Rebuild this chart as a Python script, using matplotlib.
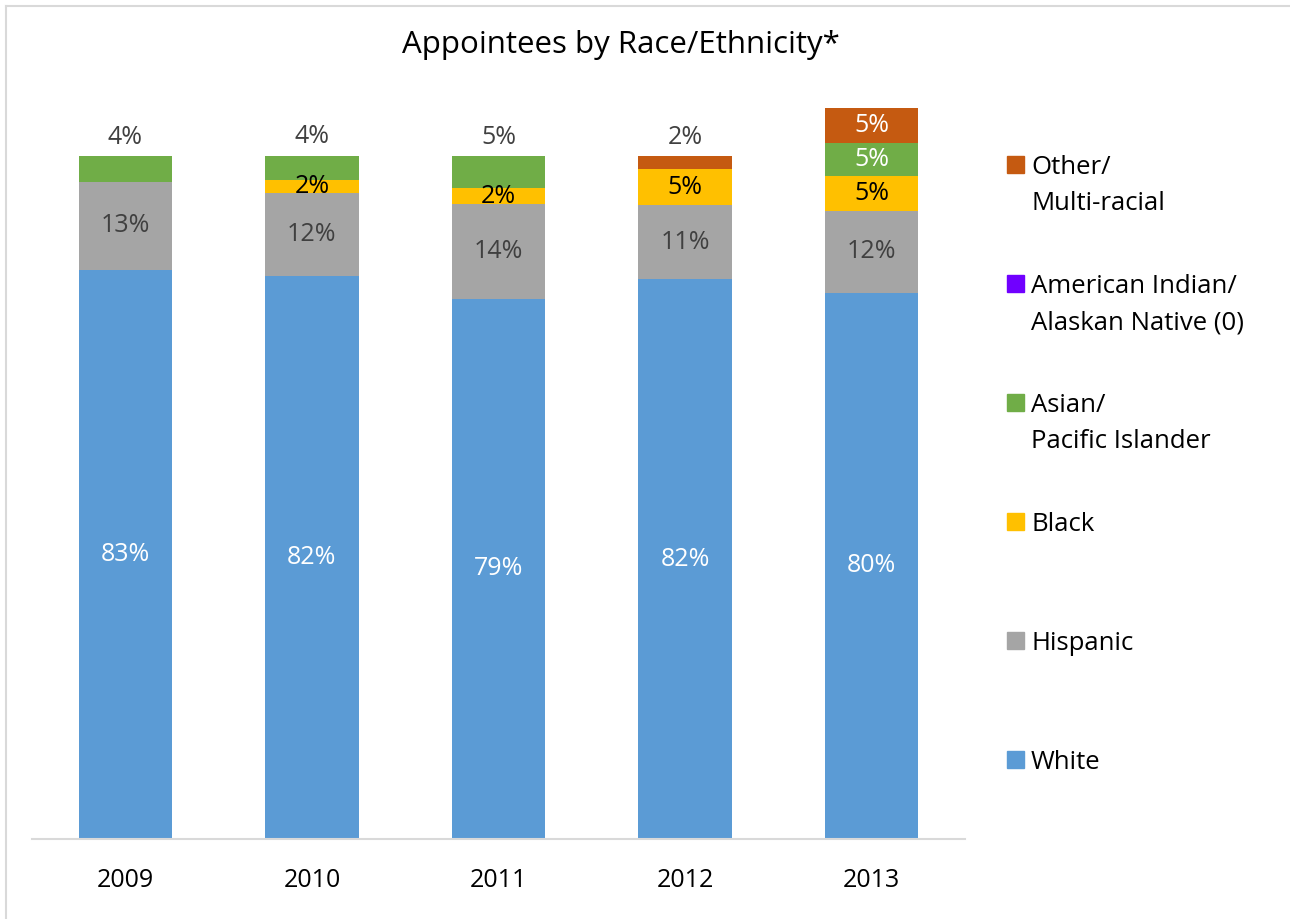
import matplotlib.pyplot as plt
from matplotlib.patches import Rectangle
from matplotlib.lines import Line2D

plt.rcParams['font.family'] = ['Open Sans', 'DejaVu Sans']

# данные
years = ['2009', '2010', '2011', '2012', '2013']
white = [83.3, 82.4, 79.1, 82.0, 80.0]
hispanic = [13.0, 12.2, 13.9, 10.8, 12.0]
black = [0, 1.9, 2.3, 5.3, 5.1]
asian = [3.7, 3.6, 4.7, 0, 4.8]
am_indian = [0, 0, 0, 0, 0]
other = [0, 0, 0, 1.9, 5.1]

series = [
    ('White', white, '#5B9BD5', 'white'),
    ('Hispanic', hispanic, '#A5A5A5', '#404040'),
    ('Black', black, '#FFC000', 'black'),
    ('Asian/\nPacific Islander', asian, '#70AD47', 'white'),
    ('American Indian/\nAlaskan Native (0)', am_indian, '#7000FF', 'white'),
    ('Other/\nMulti-racial', other, '#C55A11', 'white'),
]

fig = plt.figure(figsize=(12.9, 9.19), dpi=100)
ax = fig.add_axes([32 / 1290, 1 - 839 / 919, 933 / 1290, 751 / 919])

x = list(range(len(years)))
bottom = [0.0] * len(years)
tops = [sum(s[1][i] for s in series) for i in x]

for name, vals, color, tcolor in series:
    ax.bar(x, vals, width=0.5, bottom=bottom, color=color, edgecolor='none')
    for i in x:
        v = vals[i]
        if v <= 0:
            continue
        is_top = abs(bottom[i] + v - tops[i]) < 1e-6
        if is_top and v < 5:
            ax.text(i, tops[i] + 2.8, f'{round(v)}%', ha='center', va='center',
                    fontsize=18, color='#404040')
        else:
            ax.text(i, bottom[i] + v / 2, f'{round(v)}%', ha='center', va='center',
                    fontsize=18, color=tcolor)
    bottom = [b + v for b, v in zip(bottom, vals)]

ax.set_xlim(-0.5, 4.5)
ax.set_ylim(0, 110)
ax.set_xticks(x)
ax.set_xticklabels(years, fontsize=18)
ax.tick_params(axis='x', length=0, pad=21)
ax.set_yticks([])
for sp in ['top', 'right', 'left']:
    ax.spines[sp].set_visible(False)
ax.spines['bottom'].set_color('#D9D9D9')
ax.spines['bottom'].set_linewidth(1.5)

fig.text(0.481, 1 - 45 / 919, 'Appointees by Race/Ethnicity*', ha='center', va='center',
         fontsize=22.5, color='black')

# легенда
for k, (name, vals, color, tcolor) in enumerate(reversed(series)):
    yy = 1 - (165 + 119 * k) / 919
    fig.add_artist(Rectangle((1007 / 1290, yy - 8 / 919), 17 / 1290, 17 / 919,
                             transform=fig.transFigure, color=color))
    fig.text(1031 / 1290, yy + 10 / 919, name, ha='left', va='top', fontsize=18.5,
             linespacing=1.6, color='black')

# рамка
fig.add_artist(Line2D([6 / 1290, 1], [1 - 6 / 919, 1 - 6 / 919], color='#D9D9D9', lw=1.5))
fig.add_artist(Line2D([6 / 1290, 6 / 1290], [0, 1 - 6 / 919], color='#D9D9D9', lw=1.5))

fig.savefig('out.png', dpi=100)
